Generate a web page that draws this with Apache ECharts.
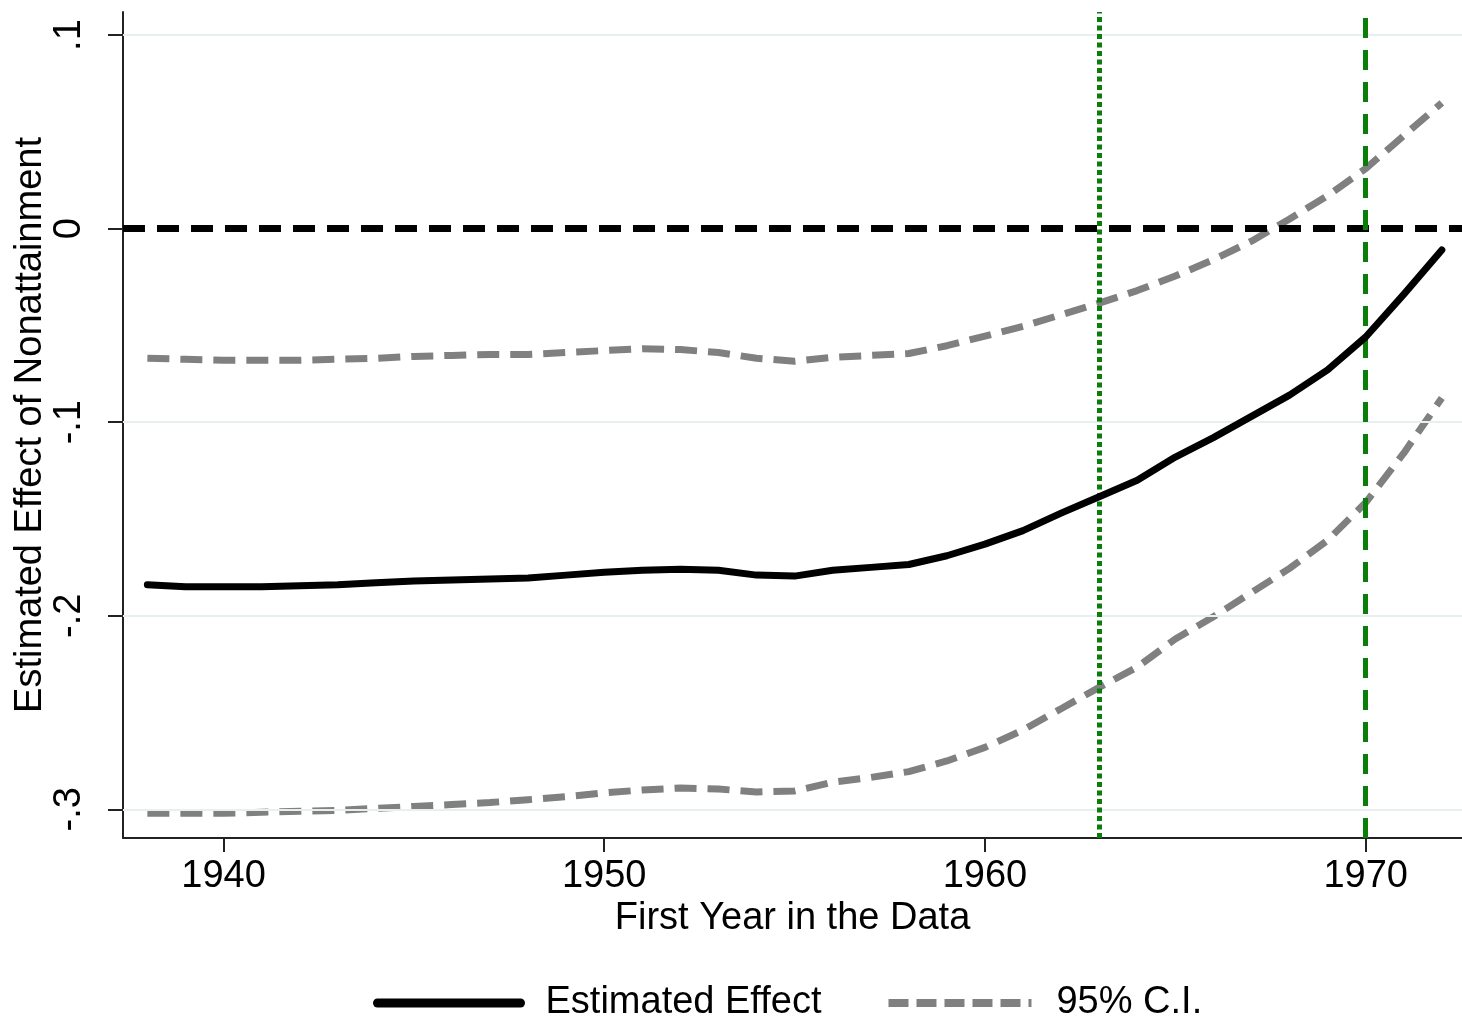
<!DOCTYPE html>
<html>
<head>
<meta charset="utf-8">
<script src="https://cdn.jsdelivr.net/npm/echarts@6/dist/echarts.min.js"></script>
<style>
html,body{margin:0;padding:0;background:#fff;}
#main{width:1462px;height:1018px;}
</style>
</head>
<body>
<div id="main"></div>
<script>
//年份 (x轴)
var years = [1938,1939,1940,1941,1942,1943,1944,1945,1946,1947,1948,1949,1950,1951,1952,1953,1954,1955,
	1956,1957,1958,1959,1960,1961,1962,1963,1964,1965,1966,1967,1968,1969,1970,1971,1972];
//估计值
var estimate = [-0.184,-0.185,-0.185,-0.185,-0.1845,-0.184,-0.183,-0.182,-0.1815,-0.181,-0.1805,-0.179,-0.1775,-0.1765,-0.176,-0.1765,-0.179,-0.1795,
	-0.1765,-0.175,-0.1735,-0.169,-0.163,-0.156,-0.147,-0.1385,-0.130,-0.118,-0.108,-0.097,-0.086,-0.073,-0.056,-0.034,-0.011];
//95%置信区间 上界
var ciUpper = [-0.067,-0.0675,-0.068,-0.068,-0.068,-0.0675,-0.067,-0.066,-0.0655,-0.065,-0.065,-0.064,-0.063,-0.062,-0.0625,-0.064,-0.067,-0.0685,
	-0.0665,-0.0655,-0.0645,-0.0605,-0.0555,-0.0505,-0.0445,-0.0385,-0.032,-0.0245,-0.016,-0.0065,0.005,0.017,0.031,0.048,0.065];
//95%置信区间 下界
var ciLower = [-0.302,-0.302,-0.302,-0.3015,-0.301,-0.3005,-0.2995,-0.2985,-0.2975,-0.2965,-0.295,-0.2935,-0.2915,-0.290,-0.289,-0.2895,-0.291,-0.2905,
	-0.286,-0.2835,-0.2805,-0.275,-0.268,-0.259,-0.248,-0.237,-0.2265,-0.212,-0.2005,-0.188,-0.1755,-0.161,-0.1415,-0.116,-0.0875];
var xTicks = [1940, 1950, 1960, 1970];
var yTicks = [-0.3, -0.2, -0.1, 0, 0.1];
var yGrid = [-0.3, -0.2, -0.1, 0.1];
var zeroLine = 0;
var dottedYear = 1963;
var dashedYear = 1970;

var font = 'Liberation Sans, Arial, sans-serif';

function toPairs(vals) {
	var out = [];
	for (var i = 0; i < years.length; i++) {
		out.push([years[i], vals[i]]);
	}
	return out;
}

function fmtY(v) {
	if (Math.abs(v) < 1e-9) return '0';
	return (v < 0 ? '-' : '') + '.' + Math.round(Math.abs(v) * 10);
}

var myChart = echarts.init(document.getElementById('main'));

var refLines = [];
for (var i in yGrid) {
	refLines.push({ yAxis: yGrid[i], lineStyle: { color: '#e8eff1', width: 2, type: 'solid' } });
}

var option = {
	animation: false,
	backgroundColor: '#fff',
	grid: { left: 123, right: 0, top: 12, bottom: 180, outerBoundsMode: 'none', containLabel: false },
	legend: {
		data: [
			{ name: 'Estimated Effect', lineStyle: { width: 9, type: 'solid' } },
			{ name: '95% C.I.', lineStyle: { width: 8, type: [20, 8] } }
		],
		left: 368,
		top: 979,
		itemWidth: 143,
		itemHeight: 20,
		itemGap: 63,
		itemStyle: { opacity: 0 },
		textStyle: { fontSize: 38, color: '#000', fontFamily: font, padding: [0, 0, 0, 20] }
	},
	xAxis: {
		type: 'value',
		min: 1937.36,
		max: 1972.53,
		name: 'First Year in the Data',
		nameLocation: 'middle',
		nameGap: 62,
		nameMoveOverlap: false,
		nameTextStyle: { fontSize: 38, color: '#000', fontFamily: font },
		axisLine: { onZero: false, lineStyle: { color: '#222', width: 2 } },
		axisTick: { customValues: xTicks, length: 14, lineStyle: { color: '#222', width: 2 } },
		axisLabel: { customValues: xTicks, margin: 20, fontSize: 38, color: '#000', fontFamily: font,
			formatter: function(v) { return String(Math.round(v)); } },
		splitLine: { show: false }
	},
	yAxis: {
		type: 'value',
		min: -0.3148,
		max: 0.1119,
		name: 'Estimated Effect of Nonattainment',
		nameLocation: 'middle',
		nameGap: 73,
		nameMoveOverlap: false,
		nameTextStyle: { fontSize: 38, color: '#000', fontFamily: font },
		axisLine: { show: true, onZero: false, lineStyle: { color: '#222', width: 2 } },
		axisTick: { customValues: yTicks, length: 15, lineStyle: { color: '#222', width: 2 } },
		axisLabel: { customValues: yTicks, rotate: 90, margin: 34, fontSize: 38, color: '#000', fontFamily: font, formatter: fmtY },
		splitLine: { show: false }
	},
	series: [
		{
			name: 'refs',
			type: 'line',
			data: [],
			z: 1,
			markLine: {
				silent: true,
				symbol: 'none',
				label: { show: false },
				data: refLines
			}
		},
		{
			name: 'zero',
			type: 'line',
			data: [],
			z: 3,
			markLine: {
				silent: true,
				symbol: 'none',
				label: { show: false },
				data: [
					{ yAxis: zeroLine, lineStyle: { color: '#000', width: 7, type: [22, 12] } },
					{ xAxis: dottedYear, lineStyle: { color: '#0b7d0b', width: 5, type: [5, 3.5] } },
					{ xAxis: dashedYear, lineStyle: { color: '#0b7d0b', width: 5, type: [20, 12] } }
				]
			}
		},
		{
			name: '95% C.I.',
			type: 'line',
			data: toPairs(ciUpper),
			showSymbol: false,
			symbol: 'none',
			z: 4,
			lineStyle: { color: '#808080', width: 7, type: [22, 11] },
			itemStyle: { color: '#808080' }
		},
		{
			name: '95% C.I.',
			type: 'line',
			data: toPairs(ciLower),
			showSymbol: false,
			symbol: 'none',
			z: 4,
			lineStyle: { color: '#808080', width: 7, type: [22, 11] },
			itemStyle: { color: '#808080' }
		},
		{
			name: 'Estimated Effect',
			type: 'line',
			data: toPairs(estimate),
			showSymbol: false,
			symbol: 'none',
			z: 5,
			lineStyle: { color: '#000', width: 7, cap: 'round', join: 'round' },
			itemStyle: { color: '#000' }
		}
	]
};
myChart.setOption(option);

window.addEventListener("resize", function() {
	myChart.resize();
});
</script>
</body>
</html>
